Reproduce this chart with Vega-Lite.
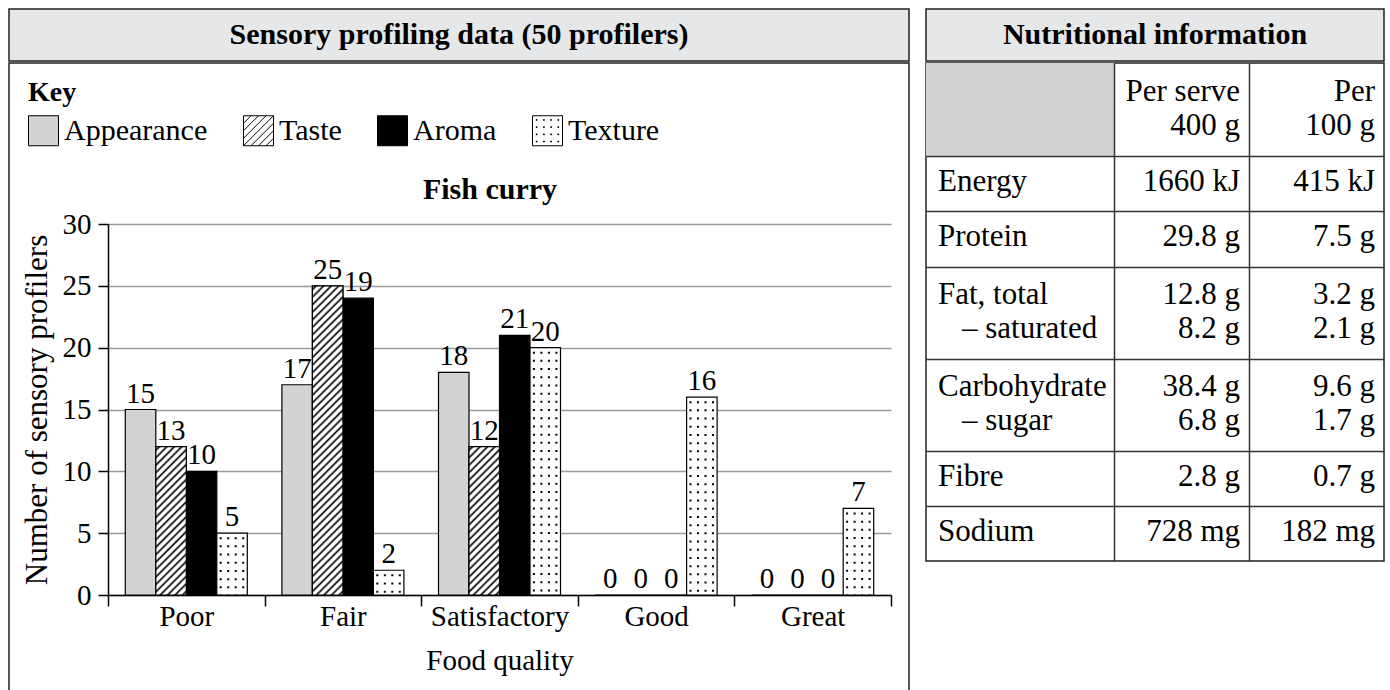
{
  "$schema": "https://vega.github.io/schema/vega-lite/v6.json",
  "padding": {"left": 8, "top": 8, "right": 2, "bottom": 0},
  "background": "white",
  "config": {"font": "Liberation Serif", "view": {"stroke": null}},
  "spacing": 15,
  "datasets": {
    "bars": [
      {"quality": "Poor", "series": "Appearance", "count": 15, "label": 15},
      {"quality": "Poor", "series": "Taste", "count": 12, "label": 13},
      {"quality": "Poor", "series": "Aroma", "count": 10, "label": 10},
      {"quality": "Poor", "series": "Texture", "count": 5, "label": 5},
      {"quality": "Fair", "series": "Appearance", "count": 17, "label": 17},
      {"quality": "Fair", "series": "Taste", "count": 25, "label": 25},
      {"quality": "Fair", "series": "Aroma", "count": 24, "label": 19},
      {"quality": "Fair", "series": "Texture", "count": 2, "label": 2},
      {"quality": "Satisfactory", "series": "Appearance", "count": 18, "label": 18},
      {"quality": "Satisfactory", "series": "Taste", "count": 12, "label": 12},
      {"quality": "Satisfactory", "series": "Aroma", "count": 21, "label": 21},
      {"quality": "Satisfactory", "series": "Texture", "count": 20, "label": 20},
      {"quality": "Good", "series": "Appearance", "count": 0, "label": 0},
      {"quality": "Good", "series": "Taste", "count": 0, "label": 0},
      {"quality": "Good", "series": "Aroma", "count": 0, "label": 0},
      {"quality": "Good", "series": "Texture", "count": 16, "label": 16},
      {"quality": "Great", "series": "Appearance", "count": 0, "label": 0},
      {"quality": "Great", "series": "Taste", "count": 0, "label": 0},
      {"quality": "Great", "series": "Aroma", "count": 0, "label": 0},
      {"quality": "Great", "series": "Texture", "count": 7, "label": 7}
    ],
    "table": [
      {"row": 0, "name": "", "name2": "", "serve": "Per serve", "serve2": "400 g", "per100": "Per", "per1002": "100 g"},
      {"row": 1, "name": "Energy", "serve": "1660 kJ", "per100": "415 kJ"},
      {"row": 2, "name": "Protein", "serve": "29.8 g", "per100": "7.5 g"},
      {"row": 3, "name": "Fat, total", "name2": "– saturated", "serve": "12.8 g", "serve2": "8.2 g", "per100": "3.2 g", "per1002": "2.1 g"},
      {"row": 4, "name": "Carbohydrate", "name2": "– sugar", "serve": "38.4 g", "serve2": "6.8 g", "per100": "9.6 g", "per1002": "1.7 g"},
      {"row": 5, "name": "Fibre", "serve": "2.8 g", "per100": "0.7 g"},
      {"row": 6, "name": "Sodium", "serve": "728 mg", "per100": "182 mg"}
    ]
  },
  "hconcat": [
    {
      "spacing": 0,
      "vconcat": [
        {
          "width": 900, "height": 52,
          "view": {"fill": "#e6e7e8", "stroke": "#231f20", "strokeWidth": 1.5},
          "data": {"values": [{"t": "Sensory profiling data (50 profilers)"}]},
          "mark": {"type": "text", "fontSize": 30, "fontWeight": "bold", "color": "black", "font": "Liberation Serif"},
          "encoding": {"text": {"field": "t"}}
        },
        {
          "width": 900, "height": 632,
          "view": {"stroke": "#231f20", "strokeWidth": 1.5},
          "data": {"name": "bars"},
          "title": {"text": "Fish curry", "anchor": "middle", "frame": "group", "offset": -166, "dx": 31, "fontSize": 30, "fontWeight": "bold", "color": "black", "font": "Liberation Serif", "baseline": "alphabetic"},
          "layer": [
            {
              "mark": {"type": "bar", "stroke": "black", "strokeWidth": 1.2},
              "encoding": {
                "x": {"field": "quality", "type": "nominal", "sort": ["Poor", "Fair", "Satisfactory", "Good", "Great"],
                  "scale": {"type": "band", "domain": ["Poor", "Fair", "Satisfactory", "Good", "Great"], "range": [99, 882], "paddingInner": 0, "paddingOuter": 0},
                  "axis": {"orient": "bottom", "offset": -100, "title": "Food quality", "labelAngle": 0, "labelFontSize": 29, "labelColor": "black", "labelPadding": -4, "tickBand": "extent", "tickSize": 11, "tickColor": "black", "tickWidth": 1.5, "domainColor": "black", "domainWidth": 1.5, "titleFontSize": 29, "titleFontWeight": "normal", "titleColor": "black", "titlePadding": 15, "grid": false}},
                "xOffset": {"field": "series", "type": "nominal", "sort": ["Appearance", "Taste", "Aroma", "Texture"],
                  "scale": {"domain": ["Appearance", "Taste", "Aroma", "Texture"], "paddingInner": 0, "paddingOuter": 0.567}},
                "y": {"field": "count", "type": "quantitative",
                  "scale": {"domain": [0, 30], "range": [532, 161], "nice": false, "zero": true},
                  "axis": {"orient": "left", "offset": -99, "title": "Number of sensory profilers", "values": [0, 5, 10, 15, 20, 25, 30], "grid": true, "gridColor": "#9a9a9a", "gridWidth": 1.5, "tickSize": 10, "tickColor": "black", "tickWidth": 1.5, "domainColor": "black", "domainWidth": 1.5, "labelFontSize": 29, "labelColor": "black", "labelPadding": 7, "titleFontSize": 31, "titleFontWeight": "normal", "titleColor": "black", "titlePadding": 9}},
                "fill": {"condition": [
                    {"test": "datum.series === 'Appearance'", "value": "#d1d3d4"},
                    {"test": "datum.series === 'Aroma'", "value": "#000000"}
                  ], "value": "#ffffff"}
              }
            },
            {
              "transform": [{"filter": "datum.series === 'Taste' && datum.count === 12"}],
              "mark": {"type": "bar", "stroke": "black", "strokeWidth": 1.2,
                "fill": {"gradient": "linear", "x1": 0, "y1": 0, "x2": 0.2377, "y2": 1.1567, "stops": [
                  {"offset": 0.0078, "color": "#fff"}, {"offset": 0.0208, "color": "#000"}, {"offset": 0.0338, "color": "#fff"},
                  {"offset": 0.0495, "color": "#fff"}, {"offset": 0.0625, "color": "#000"}, {"offset": 0.0755, "color": "#fff"},
                  {"offset": 0.0912, "color": "#fff"}, {"offset": 0.1042, "color": "#000"}, {"offset": 0.1172, "color": "#fff"},
                  {"offset": 0.1328, "color": "#fff"}, {"offset": 0.1458, "color": "#000"}, {"offset": 0.1588, "color": "#fff"},
                  {"offset": 0.1745, "color": "#fff"}, {"offset": 0.1875, "color": "#000"}, {"offset": 0.2005, "color": "#fff"},
                  {"offset": 0.2162, "color": "#fff"}, {"offset": 0.2292, "color": "#000"}, {"offset": 0.2422, "color": "#fff"},
                  {"offset": 0.2578, "color": "#fff"}, {"offset": 0.2708, "color": "#000"}, {"offset": 0.2838, "color": "#fff"},
                  {"offset": 0.2995, "color": "#fff"}, {"offset": 0.3125, "color": "#000"}, {"offset": 0.3255, "color": "#fff"},
                  {"offset": 0.3412, "color": "#fff"}, {"offset": 0.3542, "color": "#000"}, {"offset": 0.3672, "color": "#fff"},
                  {"offset": 0.3828, "color": "#fff"}, {"offset": 0.3958, "color": "#000"}, {"offset": 0.4088, "color": "#fff"},
                  {"offset": 0.4245, "color": "#fff"}, {"offset": 0.4375, "color": "#000"}, {"offset": 0.4505, "color": "#fff"},
                  {"offset": 0.4662, "color": "#fff"}, {"offset": 0.4792, "color": "#000"}, {"offset": 0.4922, "color": "#fff"},
                  {"offset": 0.5078, "color": "#fff"}, {"offset": 0.5208, "color": "#000"}, {"offset": 0.5338, "color": "#fff"},
                  {"offset": 0.5495, "color": "#fff"}, {"offset": 0.5625, "color": "#000"}, {"offset": 0.5755, "color": "#fff"},
                  {"offset": 0.5912, "color": "#fff"}, {"offset": 0.6042, "color": "#000"}, {"offset": 0.6172, "color": "#fff"},
                  {"offset": 0.6328, "color": "#fff"}, {"offset": 0.6458, "color": "#000"}, {"offset": 0.6588, "color": "#fff"},
                  {"offset": 0.6745, "color": "#fff"}, {"offset": 0.6875, "color": "#000"}, {"offset": 0.7005, "color": "#fff"},
                  {"offset": 0.7162, "color": "#fff"}, {"offset": 0.7292, "color": "#000"}, {"offset": 0.7422, "color": "#fff"},
                  {"offset": 0.7578, "color": "#fff"}, {"offset": 0.7708, "color": "#000"}, {"offset": 0.7838, "color": "#fff"},
                  {"offset": 0.7995, "color": "#fff"}, {"offset": 0.8125, "color": "#000"}, {"offset": 0.8255, "color": "#fff"},
                  {"offset": 0.8412, "color": "#fff"}, {"offset": 0.8542, "color": "#000"}, {"offset": 0.8672, "color": "#fff"},
                  {"offset": 0.8828, "color": "#fff"}, {"offset": 0.8958, "color": "#000"}, {"offset": 0.9088, "color": "#fff"},
                  {"offset": 0.9245, "color": "#fff"}, {"offset": 0.9375, "color": "#000"}, {"offset": 0.9505, "color": "#fff"},
                  {"offset": 0.9662, "color": "#fff"}, {"offset": 0.9792, "color": "#000"}, {"offset": 0.9922, "color": "#fff"}
                ]}},
              "encoding": {
                "x": {"field": "quality", "type": "nominal"},
                "xOffset": {"field": "series", "type": "nominal"},
                "y": {"field": "count", "type": "quantitative"}
              }
            },
            {
              "transform": [{"filter": "datum.series === 'Taste' && datum.count === 25"}],
              "mark": {"type": "bar", "stroke": "black", "strokeWidth": 1.2,
                "fill": {"gradient": "linear", "x1": 0, "y1": 0, "x2": 0.1073, "y2": 1.0881, "stops": [
                  {"offset": 0.0043, "color": "#fff"}, {"offset": 0.0111, "color": "#000"}, {"offset": 0.0179, "color": "#fff"},
                  {"offset": 0.0265, "color": "#fff"}, {"offset": 0.0333, "color": "#000"}, {"offset": 0.0401, "color": "#fff"},
                  {"offset": 0.0488, "color": "#fff"}, {"offset": 0.0556, "color": "#000"}, {"offset": 0.0624, "color": "#fff"},
                  {"offset": 0.0710, "color": "#fff"}, {"offset": 0.0778, "color": "#000"}, {"offset": 0.0846, "color": "#fff"},
                  {"offset": 0.0932, "color": "#fff"}, {"offset": 0.1000, "color": "#000"}, {"offset": 0.1068, "color": "#fff"},
                  {"offset": 0.1154, "color": "#fff"}, {"offset": 0.1222, "color": "#000"}, {"offset": 0.1290, "color": "#fff"},
                  {"offset": 0.1376, "color": "#fff"}, {"offset": 0.1444, "color": "#000"}, {"offset": 0.1512, "color": "#fff"},
                  {"offset": 0.1599, "color": "#fff"}, {"offset": 0.1667, "color": "#000"}, {"offset": 0.1735, "color": "#fff"},
                  {"offset": 0.1821, "color": "#fff"}, {"offset": 0.1889, "color": "#000"}, {"offset": 0.1957, "color": "#fff"},
                  {"offset": 0.2043, "color": "#fff"}, {"offset": 0.2111, "color": "#000"}, {"offset": 0.2179, "color": "#fff"},
                  {"offset": 0.2265, "color": "#fff"}, {"offset": 0.2333, "color": "#000"}, {"offset": 0.2401, "color": "#fff"},
                  {"offset": 0.2488, "color": "#fff"}, {"offset": 0.2556, "color": "#000"}, {"offset": 0.2624, "color": "#fff"},
                  {"offset": 0.2710, "color": "#fff"}, {"offset": 0.2778, "color": "#000"}, {"offset": 0.2846, "color": "#fff"},
                  {"offset": 0.2932, "color": "#fff"}, {"offset": 0.3000, "color": "#000"}, {"offset": 0.3068, "color": "#fff"},
                  {"offset": 0.3154, "color": "#fff"}, {"offset": 0.3222, "color": "#000"}, {"offset": 0.3290, "color": "#fff"},
                  {"offset": 0.3376, "color": "#fff"}, {"offset": 0.3444, "color": "#000"}, {"offset": 0.3512, "color": "#fff"},
                  {"offset": 0.3599, "color": "#fff"}, {"offset": 0.3667, "color": "#000"}, {"offset": 0.3735, "color": "#fff"},
                  {"offset": 0.3821, "color": "#fff"}, {"offset": 0.3889, "color": "#000"}, {"offset": 0.3957, "color": "#fff"},
                  {"offset": 0.4043, "color": "#fff"}, {"offset": 0.4111, "color": "#000"}, {"offset": 0.4179, "color": "#fff"},
                  {"offset": 0.4265, "color": "#fff"}, {"offset": 0.4333, "color": "#000"}, {"offset": 0.4401, "color": "#fff"},
                  {"offset": 0.4488, "color": "#fff"}, {"offset": 0.4556, "color": "#000"}, {"offset": 0.4624, "color": "#fff"},
                  {"offset": 0.4710, "color": "#fff"}, {"offset": 0.4778, "color": "#000"}, {"offset": 0.4846, "color": "#fff"},
                  {"offset": 0.4932, "color": "#fff"}, {"offset": 0.5000, "color": "#000"}, {"offset": 0.5068, "color": "#fff"},
                  {"offset": 0.5154, "color": "#fff"}, {"offset": 0.5222, "color": "#000"}, {"offset": 0.5290, "color": "#fff"},
                  {"offset": 0.5376, "color": "#fff"}, {"offset": 0.5444, "color": "#000"}, {"offset": 0.5512, "color": "#fff"},
                  {"offset": 0.5599, "color": "#fff"}, {"offset": 0.5667, "color": "#000"}, {"offset": 0.5735, "color": "#fff"},
                  {"offset": 0.5821, "color": "#fff"}, {"offset": 0.5889, "color": "#000"}, {"offset": 0.5957, "color": "#fff"},
                  {"offset": 0.6043, "color": "#fff"}, {"offset": 0.6111, "color": "#000"}, {"offset": 0.6179, "color": "#fff"},
                  {"offset": 0.6265, "color": "#fff"}, {"offset": 0.6333, "color": "#000"}, {"offset": 0.6401, "color": "#fff"},
                  {"offset": 0.6488, "color": "#fff"}, {"offset": 0.6556, "color": "#000"}, {"offset": 0.6624, "color": "#fff"},
                  {"offset": 0.6710, "color": "#fff"}, {"offset": 0.6778, "color": "#000"}, {"offset": 0.6846, "color": "#fff"},
                  {"offset": 0.6932, "color": "#fff"}, {"offset": 0.7000, "color": "#000"}, {"offset": 0.7068, "color": "#fff"},
                  {"offset": 0.7154, "color": "#fff"}, {"offset": 0.7222, "color": "#000"}, {"offset": 0.7290, "color": "#fff"},
                  {"offset": 0.7376, "color": "#fff"}, {"offset": 0.7444, "color": "#000"}, {"offset": 0.7512, "color": "#fff"},
                  {"offset": 0.7599, "color": "#fff"}, {"offset": 0.7667, "color": "#000"}, {"offset": 0.7735, "color": "#fff"},
                  {"offset": 0.7821, "color": "#fff"}, {"offset": 0.7889, "color": "#000"}, {"offset": 0.7957, "color": "#fff"},
                  {"offset": 0.8043, "color": "#fff"}, {"offset": 0.8111, "color": "#000"}, {"offset": 0.8179, "color": "#fff"},
                  {"offset": 0.8265, "color": "#fff"}, {"offset": 0.8333, "color": "#000"}, {"offset": 0.8401, "color": "#fff"},
                  {"offset": 0.8488, "color": "#fff"}, {"offset": 0.8556, "color": "#000"}, {"offset": 0.8624, "color": "#fff"},
                  {"offset": 0.8710, "color": "#fff"}, {"offset": 0.8778, "color": "#000"}, {"offset": 0.8846, "color": "#fff"},
                  {"offset": 0.8932, "color": "#fff"}, {"offset": 0.9000, "color": "#000"}, {"offset": 0.9068, "color": "#fff"},
                  {"offset": 0.9154, "color": "#fff"}, {"offset": 0.9222, "color": "#000"}, {"offset": 0.9290, "color": "#fff"},
                  {"offset": 0.9376, "color": "#fff"}, {"offset": 0.9444, "color": "#000"}, {"offset": 0.9512, "color": "#fff"},
                  {"offset": 0.9599, "color": "#fff"}, {"offset": 0.9667, "color": "#000"}, {"offset": 0.9735, "color": "#fff"},
                  {"offset": 0.9821, "color": "#fff"}, {"offset": 0.9889, "color": "#000"}, {"offset": 0.9957, "color": "#fff"}
                ]}},
              "encoding": {
                "x": {"field": "quality", "type": "nominal"},
                "xOffset": {"field": "series", "type": "nominal"},
                "y": {"field": "count", "type": "quantitative"}
              }
            },
            {
              "transform": [{"filter": "datum.series === 'Texture'"}],
              "mark": {"type": "rule", "color": "black", "strokeWidth": 2, "strokeDash": [2, 6.2], "strokeDashOffset": 4.2},
              "encoding": {
                "x": {"field": "quality", "type": "nominal", "bandPosition": 0.7197},
                "y": {"field": "count", "type": "quantitative"},
                "y2": {"datum": 0}
              }
            },
            {
              "transform": [{"filter": "datum.series === 'Texture'"}],
              "mark": {"type": "rule", "color": "black", "strokeWidth": 2, "strokeDash": [2, 6.2], "strokeDashOffset": 4.2},
              "encoding": {
                "x": {"field": "quality", "type": "nominal", "bandPosition": 0.7676},
                "y": {"field": "count", "type": "quantitative"},
                "y2": {"datum": 0}
              }
            },
            {
              "transform": [{"filter": "datum.series === 'Texture'"}],
              "mark": {"type": "rule", "color": "black", "strokeWidth": 2, "strokeDash": [2, 6.2], "strokeDashOffset": 4.2},
              "encoding": {
                "x": {"field": "quality", "type": "nominal", "bandPosition": 0.8155},
                "y": {"field": "count", "type": "quantitative"},
                "y2": {"datum": 0}
              }
            },
            {
              "transform": [{"filter": "datum.series === 'Texture'"}],
              "mark": {"type": "rule", "color": "black", "strokeWidth": 2, "strokeDash": [2, 6.2], "strokeDashOffset": 4.2},
              "encoding": {
                "x": {"field": "quality", "type": "nominal", "bandPosition": 0.8633},
                "y": {"field": "count", "type": "quantitative"},
                "y2": {"datum": 0}
              }
            },
            {
              "mark": {"type": "point", "filled": true, "opacity": 0, "strokeWidth": 1, "size": 900},
              "encoding": {
                "x": {"field": "quality", "type": "nominal"},
                "xOffset": {"field": "series", "type": "nominal"},
                "y": {"field": "count", "type": "quantitative"},
                "fill": {"field": "series", "type": "nominal",
                  "scale": {"domain": ["Appearance", "Taste", "Aroma", "Texture"], "range": ["#d1d3d4", "#ffffff", "#000000", "#ffffff"]},
                  "legend": {
                    "title": "Key", "orient": "none", "legendX": 19, "legendY": 70, "direction": "horizontal", "columns": 4,
                    "titleFontSize": 28, "titleFontWeight": "bold", "titleColor": "black", "titleFont": "Liberation Serif", "titlePadding": 8, "titleAnchor": "start",
                    "labelFontSize": 30, "labelColor": "black", "labelFont": "Liberation Serif", "labelOffset": 5, "labelLimit": 400,
                    "symbolSize": 900, "symbolStrokeColor": "black", "symbolStrokeWidth": 1, "symbolOpacity": 1,
                    "columnPadding": 33
                  }},
                "stroke": {"field": "series", "type": "nominal",
                  "scale": {"domain": ["Appearance", "Taste", "Aroma", "Texture"], "range": ["#000000", "#000000", "#000000", "#000000"]},
                  "legend": {
                    "title": "Key", "orient": "none", "legendX": 19, "legendY": 70, "direction": "horizontal", "columns": 4,
                    "titleFontSize": 28, "titleFontWeight": "bold", "titleColor": "black", "titleFont": "Liberation Serif", "titlePadding": 8, "titleAnchor": "start",
                    "labelFontSize": 30, "labelColor": "black", "labelFont": "Liberation Serif", "labelOffset": 5, "labelLimit": 400,
                    "symbolSize": 900, "symbolStrokeColor": "black", "symbolStrokeWidth": 1, "symbolOpacity": 1,
                    "columnPadding": 33
                  }},
                "shape": {"field": "series", "type": "nominal",
                  "scale": {"domain": ["Appearance", "Taste", "Aroma", "Texture"], "range": [
                    "square",
                    "M-1,-1H1V1H-1ZM-1,-0.5L-0.5,-1M-1,0L0,-1M-1,0.5L0.5,-1M-1,1L1,-1M-0.5,1L1,-0.5M0,1L1,0M0.5,1L1,0.5",
                    "square",
                    "M-1,-1H1V1H-1ZM-0.75,-0.75h0.06v0.06h-0.06ZM-0.27,-0.75h0.06v0.06h-0.06ZM0.21,-0.75h0.06v0.06h-0.06ZM0.69,-0.75h0.06v0.06h-0.06ZM-0.75,-0.27h0.06v0.06h-0.06ZM-0.27,-0.27h0.06v0.06h-0.06ZM0.21,-0.27h0.06v0.06h-0.06ZM0.69,-0.27h0.06v0.06h-0.06ZM-0.75,0.21h0.06v0.06h-0.06ZM-0.27,0.21h0.06v0.06h-0.06ZM0.21,0.21h0.06v0.06h-0.06ZM0.69,0.21h0.06v0.06h-0.06ZM-0.75,0.69h0.06v0.06h-0.06ZM-0.27,0.69h0.06v0.06h-0.06ZM0.21,0.69h0.06v0.06h-0.06ZM0.69,0.69h0.06v0.06h-0.06Z"
                  ]},
                  "legend": {
                    "title": "Key", "orient": "none", "legendX": 19, "legendY": 70, "direction": "horizontal", "columns": 4,
                    "titleFontSize": 28, "titleFontWeight": "bold", "titleColor": "black", "titleFont": "Liberation Serif", "titlePadding": 8, "titleAnchor": "start",
                    "labelFontSize": 30, "labelColor": "black", "labelFont": "Liberation Serif", "labelOffset": 5, "labelLimit": 400,
                    "symbolSize": 900, "symbolStrokeColor": "black", "symbolStrokeWidth": 1, "symbolOpacity": 1,
                    "columnPadding": 33
                  }}
              }
            },
            {
              "mark": {"type": "text", "dy": -7, "baseline": "alphabetic", "align": "center", "fontSize": 29, "color": "black"},
              "encoding": {
                "x": {"field": "quality", "type": "nominal"},
                "xOffset": {"field": "series", "type": "nominal"},
                "y": {"field": "count", "type": "quantitative"},
                "text": {"field": "label", "type": "quantitative"}
              }
            }
          ]
        }
      ]
    },
    {
      "spacing": 0,
      "vconcat": [
        {
          "width": 458, "height": 52,
          "view": {"fill": "#e6e7e8", "stroke": "#231f20", "strokeWidth": 1.5},
          "data": {"values": [{"t": "Nutritional information"}]},
          "mark": {"type": "text", "fontSize": 30, "fontWeight": "bold", "color": "black", "font": "Liberation Serif"},
          "encoding": {"text": {"field": "t"}}
        },
        {
          "width": 458, "height": 498,
          "view": {"stroke": "#231f20", "strokeWidth": 1.5},
          "data": {"name": "table"},
          "layer": [
            {
              "transform": [{"filter": "datum.row === 0"}],
              "mark": {"type": "rect", "fill": "#d1d3d4"},
              "encoding": {
                "x": {"datum": 0, "type": "quantitative",
                  "scale": {"domain": [0, 1, 2, 3], "range": [0, 188, 323, 458], "nice": false, "zero": false},
                  "axis": {"values": [1, 2], "grid": true, "gridColor": "#333333", "gridWidth": 1.5, "labels": false, "ticks": false, "domain": false, "title": null, "zindex": 1}},
                "x2": {"datum": 1},
                "y": {"datum": -0.5, "type": "quantitative",
                  "scale": {"domain": [-0.5, 0.5, 1.5, 2.5, 3.5, 4.5, 5.5, 6.5], "range": [0, 93, 148, 204, 296, 388, 443, 498], "nice": false, "zero": false},
                  "axis": {"values": [0.5, 1.5, 2.5, 3.5, 4.5, 5.5], "grid": true, "gridColor": "#333333", "gridWidth": 1.5, "labels": false, "ticks": false, "domain": false, "title": null, "zindex": 1}},
                "y2": {"datum": 0.5}
              }
            },
            {
              "transform": [{"filter": "datum.serve2 == null"}],
              "layer": [
                {
                  "mark": {"type": "text", "align": "left", "baseline": "middle", "dx": 12, "dy": -2, "fontSize": 31, "color": "black"},
                  "encoding": {"x": {"datum": 0, "type": "quantitative"}, "y": {"field": "row", "type": "quantitative"}, "text": {"field": "name"}}
                },
                {
                  "mark": {"type": "text", "align": "right", "baseline": "middle", "dx": -9, "dy": -2, "fontSize": 31, "color": "black"},
                  "encoding": {"x": {"datum": 2, "type": "quantitative"}, "y": {"field": "row", "type": "quantitative"}, "text": {"field": "serve"}}
                },
                {
                  "mark": {"type": "text", "align": "right", "baseline": "middle", "dx": -9, "dy": -2, "fontSize": 31, "color": "black"},
                  "encoding": {"x": {"datum": 3, "type": "quantitative"}, "y": {"field": "row", "type": "quantitative"}, "text": {"field": "per100"}}
                }
              ]
            },
            {
              "transform": [{"filter": "datum.serve2 != null"}],
              "layer": [
                {
                  "mark": {"type": "text", "align": "left", "baseline": "middle", "dx": 12, "dy": -18, "fontSize": 31, "color": "black"},
                  "encoding": {"x": {"datum": 0, "type": "quantitative"}, "y": {"field": "row", "type": "quantitative"}, "text": {"field": "name"}}
                },
                {
                  "mark": {"type": "text", "align": "right", "baseline": "middle", "dx": -9, "dy": -18, "fontSize": 31, "color": "black"},
                  "encoding": {"x": {"datum": 2, "type": "quantitative"}, "y": {"field": "row", "type": "quantitative"}, "text": {"field": "serve"}}
                },
                {
                  "mark": {"type": "text", "align": "right", "baseline": "middle", "dx": -9, "dy": -18, "fontSize": 31, "color": "black"},
                  "encoding": {"x": {"datum": 3, "type": "quantitative"}, "y": {"field": "row", "type": "quantitative"}, "text": {"field": "per100"}}
                },
                {
                  "mark": {"type": "text", "align": "left", "baseline": "middle", "dx": 36, "dy": 16, "fontSize": 31, "color": "black"},
                  "encoding": {"x": {"datum": 0, "type": "quantitative"}, "y": {"field": "row", "type": "quantitative"}, "text": {"field": "name2"}}
                },
                {
                  "mark": {"type": "text", "align": "right", "baseline": "middle", "dx": -9, "dy": 16, "fontSize": 31, "color": "black"},
                  "encoding": {"x": {"datum": 2, "type": "quantitative"}, "y": {"field": "row", "type": "quantitative"}, "text": {"field": "serve2"}}
                },
                {
                  "mark": {"type": "text", "align": "right", "baseline": "middle", "dx": -9, "dy": 16, "fontSize": 31, "color": "black"},
                  "encoding": {"x": {"datum": 3, "type": "quantitative"}, "y": {"field": "row", "type": "quantitative"}, "text": {"field": "per1002"}}
                }
              ]
            }
          ]
        }
      ]
    }
  ]
}
